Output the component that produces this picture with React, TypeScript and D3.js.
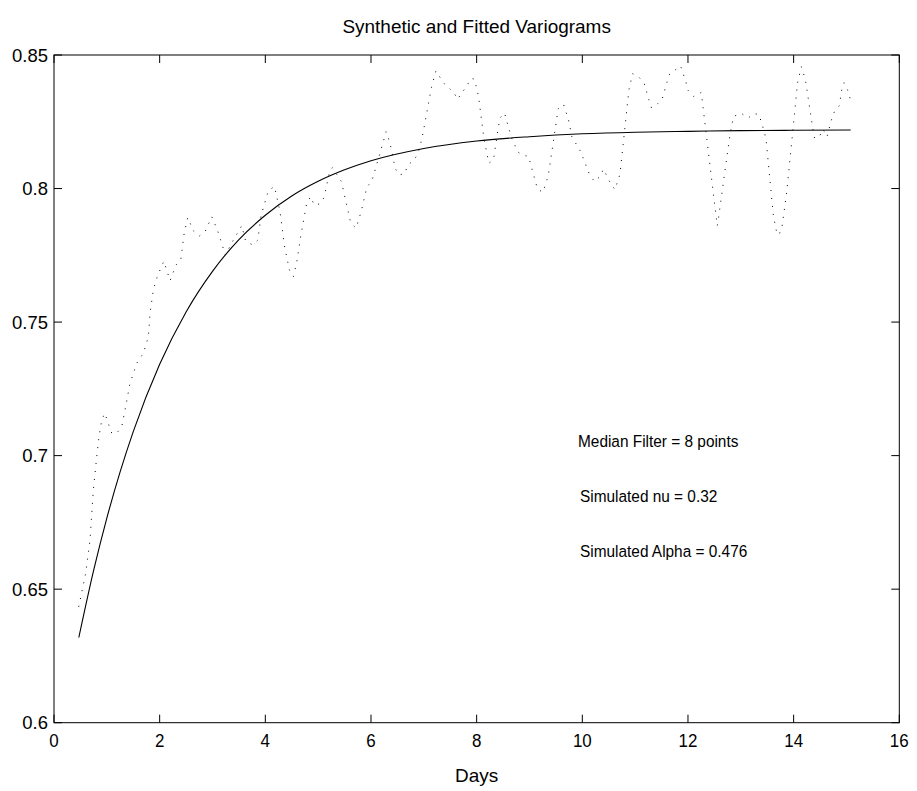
import React from "react";
import * as d3 from "d3";

const TITLE = "Synthetic and Fitted Variograms";
const X_LABEL = "Days";
const ANNOTATIONS = ["Median Filter = 8 points", "Simulated nu = 0.32", "Simulated Alpha = 0.476"];

const X_TICKS = [0, 2, 4, 6, 8, 10, 12, 14, 16];
const Y_TICKS = [0.6, 0.65, 0.7, 0.75, 0.8, 0.85];
const Y_TICK_LABELS = ["0.6", "0.65", "0.7", "0.75", "0.8", "0.85"];

// Synthetic (median-filtered) variogram, dotted line
const synthDays = [
  0.468, 0.6, 0.682, 0.744, 0.809, 0.852, 0.903, 0.96, 1.093, 1.187,
  1.282, 1.344, 1.439, 1.566, 1.691, 1.786, 1.818, 1.88, 1.945, 2.007,
  2.079, 2.197, 2.31, 2.399, 2.462, 2.532, 2.638, 2.751, 2.859, 2.986,
  3.092, 3.244, 3.395, 3.554, 3.63, 3.763, 3.857, 3.92, 4.058, 4.172,
  4.279, 4.361, 4.456, 4.531, 4.596, 4.671, 4.785, 4.861, 4.923, 5.037,
  5.113, 5.213, 5.27, 5.44, 5.618, 5.719, 5.813, 5.921, 6.016, 6.154,
  6.287, 6.362, 6.457, 6.533, 6.641, 6.69, 6.804, 6.887, 6.968, 7.144,
  7.228, 7.385, 7.574, 7.637, 7.815, 7.896, 7.959, 8.034, 8.137, 8.231,
  8.318, 8.413, 8.445, 8.527, 8.654, 8.78, 8.881, 8.981, 9.152, 9.254,
  9.354, 9.449, 9.544, 9.644, 9.739, 9.803, 9.966, 10.136, 10.231, 10.339,
  10.401, 10.528, 10.617, 10.712, 10.78, 10.882, 10.951, 11.072, 11.172, 11.261,
  11.31, 11.424, 11.513, 11.602, 11.652, 11.759, 11.86, 11.962, 12.0, 12.106,
  12.2, 12.251, 12.27, 12.554, 12.579, 12.776, 12.8, 12.863, 13.009, 13.141,
  13.242, 13.336, 13.393, 13.477, 13.615, 13.677, 13.723, 13.78, 13.867, 14.075,
  14.145, 14.221, 14.367, 14.397, 14.486, 14.556, 14.632, 14.713, 14.77, 14.864,
  14.915, 14.953, 15.021, 15.067,
];
const synthValues = [
  0.6434, 0.656, 0.6684, 0.6871, 0.6996, 0.7071, 0.7133, 0.7159, 0.7084, 0.7084,
  0.7108, 0.7171, 0.7271, 0.7346, 0.7383, 0.7445, 0.7533, 0.762, 0.7664, 0.7695,
  0.7728, 0.7655, 0.7714, 0.7733, 0.783, 0.7891, 0.7842, 0.7822, 0.7838, 0.7895,
  0.7845, 0.7751, 0.7807, 0.7861, 0.7801, 0.7789, 0.7807, 0.79, 0.7992, 0.8008,
  0.7913, 0.7786, 0.7695, 0.767, 0.7726, 0.7822, 0.7948, 0.797, 0.7938, 0.7943,
  0.7967, 0.8061, 0.8078, 0.8026, 0.787, 0.7852, 0.7913, 0.8005, 0.8028, 0.8121,
  0.8213, 0.8169, 0.8076, 0.8051, 0.8056, 0.8086, 0.8106, 0.8128, 0.819, 0.8378,
  0.844, 0.8393, 0.8358, 0.8334, 0.8385, 0.8413, 0.8409, 0.8347, 0.8188, 0.8095,
  0.8107, 0.8233, 0.8265, 0.8283, 0.8193, 0.8137, 0.8124, 0.8121, 0.7998, 0.7986,
  0.8047, 0.8172, 0.8299, 0.8315, 0.8257, 0.8194, 0.8139, 0.8053, 0.8026, 0.8046,
  0.8073, 0.8022, 0.7996, 0.8053, 0.8179, 0.837, 0.843, 0.8417, 0.8393, 0.8332,
  0.8302, 0.8317, 0.8336, 0.8398, 0.8428, 0.8444, 0.8459, 0.8398, 0.8368, 0.8345,
  0.8354, 0.836, 0.8329, 0.786, 0.7891, 0.8175, 0.8207, 0.827, 0.8282, 0.8264,
  0.828, 0.8278, 0.8248, 0.8186, 0.7901, 0.7838, 0.7826, 0.7857, 0.7983, 0.8396,
  0.8456, 0.841, 0.8219, 0.8188, 0.8194, 0.8222, 0.8194, 0.8256, 0.8287, 0.831,
  0.8375, 0.8396, 0.8369, 0.8338,
];

// Fitted variogram, solid line
const fitDays = [0.47, 0.75, 1, 1.25, 1.5, 2, 2.5, 3, 3.5, 4, 4.5, 5, 5.5, 6, 7, 8, 9, 10, 11, 12, 13, 14, 15.08];
const fitValues = [
  0.6319, 0.657, 0.6766, 0.6938, 0.709, 0.7342, 0.7538, 0.769, 0.7809, 0.79, 0.7972, 0.8027,
  0.807, 0.8104, 0.815, 0.8178, 0.8194, 0.8205, 0.8211, 0.8214, 0.8217, 0.8218, 0.8219,
];

const W = 917;
const H = 791;
const M = { left: 54, right: 899.3, top: 55, bottom: 722.7 };
const FONT = "'Liberation Sans', Arial, Helvetica, sans-serif";

function T({ x, y, size, sx = 1.1, sy = 1.12, anchor = "start", children }: any) {
  return (
    <text
      transform={`translate(${x},${y}) scale(${sx},${sy})`}
      fontSize={size}
      fontFamily={FONT}
      textAnchor={anchor}
      fill="#000"
    >
      {children}
    </text>
  );
}

export default function App() {
  const x = d3.scaleLinear().domain([0, 16]).range([M.left, M.right]);
  const y = d3.scaleLinear().domain([0.6, 0.85]).range([M.bottom, M.top]);

  const synth = synthDays.map((d, i) => [d, synthValues[i]] as [number, number]);
  const fit = fitDays.map((d, i) => [d, fitValues[i]] as [number, number]);

  const lineLin = d3
    .line<[number, number]>()
    .x((d) => x(d[0]))
    .y((d) => y(d[1]));
  const lineFit = d3
    .line<[number, number]>()
    .x((d) => x(d[0]))
    .y((d) => y(d[1]))
    .curve(d3.curveMonotoneX);

  const tickLen = 8;
  const cx = (M.left + M.right) / 2;

  return (
    <svg
      width={W}
      height={H}
      style={{ position: "absolute", left: 0, top: 0, background: "#fff" }}
    >
      <rect x={0} y={0} width={W} height={H} fill="#fff" />
      <rect
        x={M.left}
        y={M.top}
        width={M.right - M.left}
        height={M.bottom - M.top}
        fill="none"
        stroke="#000"
        strokeWidth={1}
      />
      {X_TICKS.map((t) => (
        <g key={"xt" + t}>
          <line x1={x(t)} x2={x(t)} y1={M.bottom} y2={M.bottom - tickLen} stroke="#000" />
          <line x1={x(t)} x2={x(t)} y1={M.top} y2={M.top + tickLen} stroke="#000" />
          <T x={x(t)} y={747} size={16} sx={1.06} anchor="middle">
            {String(t)}
          </T>
        </g>
      ))}
      {Y_TICKS.map((t, i) => (
        <g key={"yt" + t}>
          <line x1={M.left} x2={M.left + tickLen} y1={y(t)} y2={y(t)} stroke="#000" />
          <line x1={M.right} x2={M.right - tickLen} y1={y(t)} y2={y(t)} stroke="#000" />
          <T x={M.left - 6} y={y(t) + 6.5} size={16.5} sx={1.12} anchor="end">
            {Y_TICK_LABELS[i]}
          </T>
        </g>
      ))}
      <path
        d={lineLin(synth) || ""}
        fill="none"
        stroke="#000"
        strokeWidth={1}
        strokeDasharray="1 7"
      />
      <path d={lineFit(fit) || ""} fill="none" stroke="#000" strokeWidth={1.1} />
      <T x={cx} y={33} size={16.5} sx={1.15} anchor="middle">
        {TITLE}
      </T>
      <T x={cx} y={782} size={16.5} sx={1.15} anchor="middle">
        {X_LABEL}
      </T>
      <T x={578} y={447} size={14} sx={1.1} anchor="start">
        {ANNOTATIONS[0]}
      </T>
      <T x={580} y={502} size={14} sx={1.1} anchor="start">
        {ANNOTATIONS[1]}
      </T>
      <T x={580} y={557} size={14} sx={1.1} anchor="start">
        {ANNOTATIONS[2]}
      </T>
    </svg>
  );
}
